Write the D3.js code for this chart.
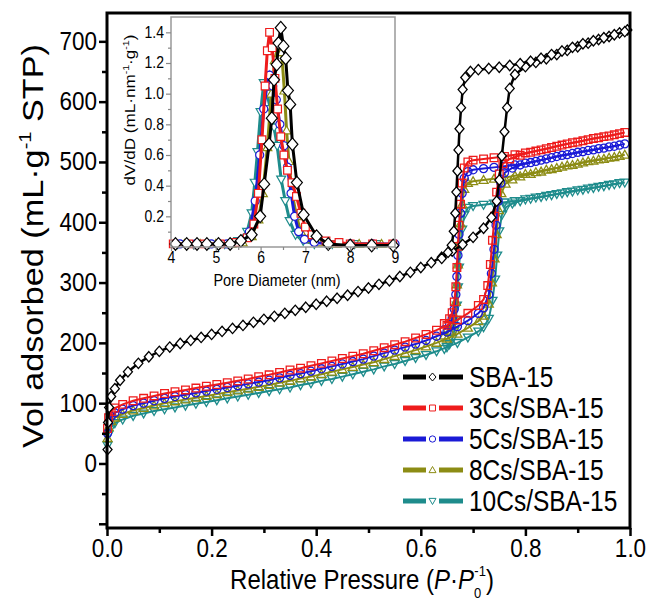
<!DOCTYPE html>
<html><head><meta charset="utf-8">
<script src="https://cdn.jsdelivr.net/npm/d3@7"></script>
<style>body{margin:0;background:#fff} text{font-family:Arial,"Liberation Sans",sans-serif}</style>
</head><body><svg id="c" width="652" height="613"></svg>
<script>
const seriesNames = ["SBA-15","3Cs/SBA-15","5Cs/SBA-15","8Cs/SBA-15","10Cs/SBA-15"];
const seriesColors = ["#000000","#ee1c1c","#1a1ad6","#8c8c14","#1e8c8c"];
const seriesMarkers = ["diamond","square","circle","triangleUp","triangleDown"];
const xTickValues = [0,0.2,0.4,0.6,0.8,1.0];
const xMinorTicks = [0.1,0.3,0.5,0.7,0.9];
const yTickValues = [-100,0,100,200,300,400,500,600,700];
const yMinorTicks = [-50,50,150,250,350,450,550,650];
const insetXTicks = [4,5,6,7,8,9];
const insetXMinor = [4.5,5.5,6.5,7.5,8.5];
const insetYTicks = [0.2,0.4,0.6,0.8,1.0,1.2,1.4];
const insetYMinor = [0.1,0.3,0.5,0.7,0.9,1.1,1.3];

// isotherms [P/P0, volume]
const sba15Ads = [[0.001,23],[0.002,68],[0.004,93],[0.008,111],[0.015,124],[0.025,138],[0.04,152],[0.06,166],[0.08,177],[0.10,186],[0.12,193],[0.14,199],[0.16,204],[0.18,209],[0.20,214],[0.22,219],[0.24,224],[0.26,229],[0.28,234],[0.30,239],[0.32,244],[0.34,249],[0.36,254],[0.38,259],[0.40,264],[0.42,269],[0.44,274],[0.46,279],[0.48,285],[0.50,291],[0.52,297],[0.54,303],[0.56,310],[0.58,317],[0.60,325],[0.62,333],[0.64,342],[0.66,352],[0.68,363],[0.70,375],[0.72,390],[0.735,408],[0.745,435],[0.75,470],[0.755,510],[0.76,550],[0.765,590],[0.77,622],[0.78,645],[0.80,658],[0.82,665],[0.84,671],[0.86,678],[0.88,685],[0.90,691],[0.92,697],[0.94,703],[0.96,708],[0.98,714],[0.995,719]];
const sba15Des = [[0.99,716],[0.97,711],[0.95,706],[0.93,701],[0.91,696],[0.89,690],[0.87,684],[0.85,678],[0.83,672],[0.81,667],[0.79,663],[0.77,660],[0.75,657],[0.73,655],[0.71,653],[0.695,650],[0.685,640],[0.68,620],[0.677,590],[0.674,555],[0.672,520],[0.67,485],[0.668,450],[0.666,415],[0.663,385],[0.659,362],[0.652,350],[0.64,340]];
const cs3Ads = [[0.001,58],[0.003,76],[0.008,86],[0.015,92],[0.03,98],[0.05,104],[0.07,108],[0.09,112],[0.11,116],[0.13,119],[0.15,122],[0.17,125],[0.19,128],[0.21,131],[0.23,134],[0.25,137],[0.27,140],[0.29,144],[0.31,147],[0.33,151],[0.35,155],[0.37,158],[0.39,162],[0.41,166],[0.43,170],[0.45,174],[0.47,178],[0.49,182],[0.51,187],[0.53,192],[0.55,197],[0.57,202],[0.59,208],[0.61,214],[0.63,221],[0.65,229],[0.67,238],[0.69,249],[0.71,262],[0.72,272],[0.728,295],[0.733,330],[0.737,370],[0.741,410],[0.745,450],[0.75,480],[0.757,497],[0.77,505],[0.79,511],[0.81,516],[0.83,520],[0.85,524],[0.87,528],[0.89,532],[0.91,535],[0.93,539],[0.95,542],[0.97,545],[0.99,549]];
const cs3Des = [[0.98,547],[0.96,543],[0.94,540],[0.92,537],[0.90,533],[0.88,530],[0.86,526],[0.84,522],[0.82,518],[0.80,515],[0.78,512],[0.76,509],[0.74,507],[0.72,505],[0.70,503],[0.69,500],[0.683,490],[0.679,465],[0.676,430],[0.673,395],[0.671,360],[0.669,325],[0.667,293],[0.664,268],[0.66,250],[0.655,240],[0.645,232]];
const cs5Ads = [[0.001,50],[0.003,68],[0.008,78],[0.015,84],[0.03,90],[0.05,96],[0.07,100],[0.09,104],[0.11,108],[0.13,111],[0.15,114],[0.17,117],[0.19,120],[0.21,123],[0.23,126],[0.25,129],[0.27,132],[0.29,135],[0.31,138],[0.33,142],[0.35,146],[0.37,149],[0.39,153],[0.41,157],[0.43,161],[0.45,165],[0.47,169],[0.49,173],[0.51,178],[0.53,183],[0.55,188],[0.57,193],[0.59,198],[0.61,204],[0.63,211],[0.65,218],[0.67,227],[0.69,237],[0.71,249],[0.72,258],[0.73,280],[0.735,315],[0.74,355],[0.744,395],[0.748,435],[0.753,465],[0.76,482],[0.775,490],[0.79,495],[0.81,499],[0.83,503],[0.85,507],[0.87,511],[0.89,514],[0.91,517],[0.93,520],[0.95,523],[0.97,526],[0.99,530]];
const cs5Des = [[0.98,528],[0.96,525],[0.94,522],[0.92,519],[0.90,516],[0.88,512],[0.86,509],[0.84,505],[0.82,501],[0.80,498],[0.78,495],[0.76,493],[0.74,491],[0.72,489],[0.70,487],[0.69,484],[0.683,473],[0.679,448],[0.676,415],[0.673,380],[0.671,345],[0.669,310],[0.667,280],[0.664,256],[0.66,240],[0.655,230],[0.645,222]];
const cs8Ads = [[0.001,42],[0.003,60],[0.008,70],[0.015,76],[0.03,82],[0.05,88],[0.07,92],[0.09,96],[0.11,100],[0.13,103],[0.15,106],[0.17,109],[0.19,112],[0.21,115],[0.23,118],[0.25,121],[0.27,124],[0.29,127],[0.31,130],[0.33,134],[0.35,137],[0.37,141],[0.39,144],[0.41,148],[0.43,152],[0.45,156],[0.47,160],[0.49,164],[0.51,168],[0.53,173],[0.55,178],[0.57,183],[0.59,188],[0.61,194],[0.63,200],[0.65,207],[0.67,215],[0.69,225],[0.71,236],[0.72,245],[0.73,265],[0.736,300],[0.741,340],[0.745,380],[0.749,420],[0.754,448],[0.762,464],[0.775,471],[0.79,476],[0.81,480],[0.83,484],[0.85,488],[0.87,492],[0.89,495],[0.91,499],[0.93,502],[0.95,505],[0.97,508],[0.99,512]];
const cs8Des = [[0.98,510],[0.96,507],[0.94,504],[0.92,501],[0.90,497],[0.88,494],[0.86,490],[0.84,487],[0.82,483],[0.80,480],[0.78,477],[0.76,474],[0.74,472],[0.72,470],[0.70,468],[0.69,465],[0.683,455],[0.679,430],[0.676,398],[0.673,365],[0.671,330],[0.669,297],[0.667,268],[0.664,245],[0.66,230],[0.655,220],[0.645,212]];
const cs10Ads = [[0.001,30],[0.003,48],[0.008,60],[0.015,67],[0.03,73],[0.05,79],[0.07,83],[0.09,87],[0.11,90],[0.13,93],[0.15,96],[0.17,99],[0.19,102],[0.21,105],[0.23,108],[0.25,111],[0.27,114],[0.29,117],[0.31,120],[0.33,123],[0.35,126],[0.37,130],[0.39,133],[0.41,137],[0.43,140],[0.45,144],[0.47,148],[0.49,152],[0.51,156],[0.53,161],[0.55,165],[0.57,170],[0.59,175],[0.61,180],[0.63,186],[0.65,193],[0.67,200],[0.69,209],[0.71,219],[0.72,226],[0.73,240],[0.737,270],[0.742,305],[0.746,345],[0.75,385],[0.755,412],[0.763,425],[0.775,431],[0.79,435],[0.81,439],[0.83,442],[0.85,445],[0.87,448],[0.89,451],[0.91,454],[0.93,457],[0.95,460],[0.97,463],[0.99,466]];
const cs10Des = [[0.98,465],[0.96,462],[0.94,459],[0.92,456],[0.90,453],[0.88,450],[0.86,447],[0.84,444],[0.82,441],[0.80,438],[0.78,435],[0.76,433],[0.74,431],[0.72,429],[0.70,427],[0.69,424],[0.683,412],[0.679,388],[0.676,358],[0.673,325],[0.671,292],[0.669,262],[0.667,238],[0.664,220],[0.66,207],[0.655,198],[0.645,190]];

// pore size distributions [diameter nm, dV/dD]
const psdSBA15 = [[4.1,0.02],[4.35,0.02],[4.58,0.02],[4.8,0.02],[5.06,0.02],[5.32,0.02],[5.56,0.04],[5.8,0.08],[5.99,0.2],[6.08,0.41],[6.19,0.67],[6.25,0.84],[6.3,1.09],[6.36,1.19],[6.4,1.33],[6.45,1.43],[6.51,1.31],[6.56,1.23],[6.61,1.02],[6.66,0.93],[6.71,0.67],[6.81,0.42],[6.96,0.21],[7.25,0.07],[7.51,0.02],[8.0,0.01],[8.48,0.01],[8.96,0.01]];
const psd3Cs = [[4.05,0.02],[4.4,0.02],[4.75,0.02],[5.1,0.02],[5.45,0.03],[5.7,0.06],[5.85,0.15],[5.95,0.35],[6.03,0.7],[6.1,1.05],[6.15,1.28],[6.2,1.4],[6.26,1.3],[6.32,1.1],[6.38,0.9],[6.45,0.72],[6.52,0.6],[6.6,0.5],[6.7,0.42],[6.8,0.33],[6.9,0.22],[7.0,0.13],[7.15,0.08],[7.46,0.04],[7.75,0.03],[8.0,0.02],[8.5,0.02],[8.95,0.02]];
const psd5Cs = [[4.2,0.02],[4.55,0.02],[4.9,0.02],[5.25,0.02],[5.55,0.04],[5.75,0.1],[5.88,0.3],[5.98,0.6],[6.07,0.9],[6.14,1.05],[6.2,1.12],[6.27,1.05],[6.35,0.96],[6.43,0.8],[6.52,0.66],[6.6,0.52],[6.68,0.35],[6.76,0.2],[6.85,0.1],[6.98,0.05],[7.2,0.03],[7.5,0.02],[8.0,0.02],[8.5,0.02],[9.0,0.02]];
const psd8Cs = [[4.3,0.02],[4.65,0.02],[5.0,0.02],[5.35,0.02],[5.6,0.03],[5.8,0.07],[5.95,0.18],[6.05,0.35],[6.15,0.65],[6.24,1.0],[6.32,1.22],[6.4,1.33],[6.47,1.27],[6.53,1.02],[6.58,0.76],[6.63,0.56],[6.7,0.36],[6.8,0.2],[6.9,0.1],[7.05,0.05],[7.3,0.03],[7.7,0.02],[8.2,0.02],[8.7,0.02]];
const psd10Cs = [[4.15,0.02],[4.5,0.02],[4.85,0.02],[5.2,0.02],[5.5,0.04],[5.7,0.1],[5.8,0.22],[5.87,0.42],[5.93,0.62],[6.0,0.88],[6.07,1.07],[6.14,1.0],[6.22,0.9],[6.3,0.78],[6.37,0.66],[6.46,0.44],[6.55,0.3],[6.65,0.17],[6.78,0.08],[6.95,0.04],[7.2,0.02],[7.6,0.02],[8.1,0.02],[8.6,0.02]];

const adsorption = [sba15Ads, cs3Ads, cs5Ads, cs8Ads, cs10Ads];
const desorption = [sba15Des, cs3Des, cs5Des, cs8Des, cs10Des];
const psd = [psdSBA15, psd3Cs, psd5Cs, psd8Cs, psd10Cs];

const S = 1.18; // vertical glyph stretch of the original figure
const svg = d3.select("#c");
const x = d3.scaleLinear().domain([0, 1]).range([107, 630]);
const y = d3.scaleLinear().domain([-107, 747]).range([528, 13]);
const ix = d3.scaleLinear().domain([4, 9]).range([171, 395]);
const iy = d3.scaleLinear().domain([0, 1.5]).range([247, 17]);

function markerPath(type, s) {
  const h = s / 2;
  switch (type) {
    case "diamond": return `M0,${-h*1.15}L${h},0L0,${h*1.15}L${-h},0Z`;
    case "square": return `M${-h*0.85},${-h*0.85}H${h*0.85}V${h*0.85}H${-h*0.85}Z`;
    case "circle": return d3.arc()({innerRadius:0, outerRadius:h*0.9, startAngle:0, endAngle:2*Math.PI});
    case "triangleUp": return `M0,${-h}L${h},${h*0.75}L${-h},${h*0.75}Z`;
    case "triangleDown": return `M0,${h}L${h},${-h*0.75}L${-h},${-h*0.75}Z`;
  }
}
function stretchAbout(cy) { return `translate(0,${cy}) scale(1,${S}) translate(0,${-cy})`; }

// main series (draw colored first, black last)
const order = [4, 3, 2, 1, 0];
const gData = svg.append("g");
order.forEach(i => {
  const col = seriesColors[i];
  const line = d3.line().x(d => x(d[0])).y(d => y(d[1]));
  [adsorption[i], desorption[i]].forEach(arr => {
    gData.append("path").attr("d", line(arr)).attr("fill", "none")
      .attr("stroke", col).attr("stroke-width", i === 0 ? 2.5 : 2);
    gData.selectAll(null).data(arr).enter().append("path")
      .attr("d", markerPath(seriesMarkers[i], 9))
      .attr("transform", d => `translate(${x(d[0])},${y(d[1])})`)
      .attr("fill", i === 0 ? "#fff" : "none")
      .attr("stroke", col).attr("stroke-width", 1.3);
  });
});

// main frame and axes
svg.append("rect").attr("x", 107).attr("y", 13).attr("width", 523).attr("height", 515)
  .attr("fill", "none").attr("stroke", "#000").attr("stroke-width", 3);

function styleAxis(g, w, fs, col) {
  g.select(".domain").remove();
  g.selectAll(".tick line").attr("stroke", col || "#000").attr("stroke-width", w);
  g.selectAll(".tick text").attr("fill", "#000").style("font-size", fs + "px")
    .style("font-family", "Arial, 'Liberation Sans', sans-serif");
}
const FS = 22.5;
const gxMinor = svg.append("g").attr("transform", "translate(0,528)")
  .call(d3.axisBottom(x).tickValues(xMinorTicks).tickSize(5).tickFormat(""));
styleAxis(gxMinor, 2.5, FS);
const gx = svg.append("g").attr("transform", "translate(0,528)")
  .call(d3.axisBottom(x).tickValues(xTickValues).tickSize(8).tickPadding(4).tickFormat(d3.format(".1f")));
styleAxis(gx, 2.5, FS);
gx.selectAll(".tick text").attr("transform", stretchAbout(12 + 0.36 * FS));
const gyMinor = svg.append("g").attr("transform", "translate(107,0)")
  .call(d3.axisLeft(y).tickValues(yMinorTicks).tickSize(5).tickFormat(""));
styleAxis(gyMinor, 2.5, FS);
const gy = svg.append("g").attr("transform", "translate(107,0)")
  .call(d3.axisLeft(y).tickValues(yTickValues).tickSize(8).tickPadding(2).tickFormat(d => d < 0 ? "" : d));
styleAxis(gy, 2.5, FS);
gy.selectAll(".tick text").attr("transform", `scale(1,${S})`).attr("dy", "0.3em");

// axis titles
const yt = svg.append("text").attr("transform", `translate(43,246) rotate(-90) scale(${S},1)`)
  .attr("text-anchor", "middle").style("font-size", "29px").attr("fill", "#000");
yt.append("tspan").text("Vol adsorbed (mL·g");
yt.append("tspan").text("-1").style("font-size", "17px").attr("dy", -12);
yt.append("tspan").text(" STP)").attr("dy", 12);

const xt = svg.append("text").attr("transform", `translate(362,589) scale(1,${S})`)
  .attr("text-anchor", "middle").style("font-size", "24px").attr("fill", "#000");
xt.append("tspan").text("Relative Pressure (");
xt.append("tspan").text("P").style("font-style", "italic");
xt.append("tspan").text("·");
xt.append("tspan").text("P").style("font-style", "italic");
xt.append("tspan").text("0").style("font-size", "13px").attr("dy", 8);
xt.append("tspan").text("-1").style("font-size", "13px").attr("dx", -7).attr("dy", -19);
xt.append("tspan").text(")").attr("dy", 11);

// legend
const legendY = [377, 408, 439, 470, 501];
seriesNames.forEach((name, i) => {
  const g = svg.append("g").attr("transform", `translate(0,${legendY[i]})`);
  g.append("line").attr("x1", 403).attr("x2", 426).attr("y1", 0).attr("y2", 0)
    .attr("stroke", seriesColors[i]).attr("stroke-width", 5);
  g.append("line").attr("x1", 439).attr("x2", 463).attr("y1", 0).attr("y2", 0)
    .attr("stroke", seriesColors[i]).attr("stroke-width", 5);
  g.append("path").attr("d", markerPath(seriesMarkers[i], 7)).attr("transform", "translate(432.5,0)")
    .attr("fill", "#fff").attr("stroke", seriesColors[i]).attr("stroke-width", 1);
  g.append("text").attr("x", 469).attr("y", 0).attr("dy", "0.36em").attr("transform", `scale(1,${S})`)
    .style("font-size", "24.5px").attr("fill", "#000").text(name);
});

// inset
const gi = svg.append("g");
order.forEach(i => {
  const col = seriesColors[i];
  const line = d3.line().x(d => ix(d[0])).y(d => iy(d[1]));
  gi.append("path").attr("d", line(psd[i])).attr("fill", "none")
    .attr("stroke", col).attr("stroke-width", 3);
  gi.selectAll(null).data(psd[i]).enter().append("path")
    .attr("d", markerPath(seriesMarkers[i], i === 0 ? 11 : 9))
    .attr("transform", d => `translate(${ix(d[0])},${iy(d[1])})`)
    .attr("fill", "#fff").attr("stroke", col).attr("stroke-width", 1.2);
});
svg.append("rect").attr("x", 171).attr("y", 17).attr("width", 224).attr("height", 230)
  .attr("fill", "none").attr("stroke", "#999").attr("stroke-width", 1.5);
const IFS = 14;
styleAxis(svg.append("g").attr("transform", "translate(0,247)")
  .call(d3.axisBottom(ix).tickValues(insetXMinor).tickSize(3).tickFormat("")), 1.2, IFS, "#888");
const gix = svg.append("g").attr("transform", "translate(0,247)")
  .call(d3.axisBottom(ix).tickValues(insetXTicks).tickSize(4).tickPadding(1).tickFormat(d3.format("d")));
styleAxis(gix, 1.2, IFS, "#888");
gix.selectAll(".tick text").attr("transform", stretchAbout(5 + 0.36 * IFS));
styleAxis(svg.append("g").attr("transform", "translate(171,0)")
  .call(d3.axisLeft(iy).tickValues(insetYMinor).tickSize(3).tickFormat("")), 1.2, IFS, "#888");
const giy = svg.append("g").attr("transform", "translate(171,0)")
  .call(d3.axisLeft(iy).tickValues(insetYTicks).tickSize(5).tickPadding(2).tickFormat(d3.format(".1f")));
styleAxis(giy, 1.2, IFS, "#888");
giy.selectAll(".tick text").attr("transform", `scale(1,${S})`).attr("dy", "0.3em");

const iyt = svg.append("text").attr("transform", `translate(135,110) rotate(-90) scale(${S},1)`)
  .attr("text-anchor", "middle").style("font-size", "14.5px").attr("fill", "#000");
iyt.append("tspan").text("dV/dD (mL·nm");
iyt.append("tspan").text("-1").style("font-size", "9px").attr("dy", -6);
iyt.append("tspan").text("·g").attr("dy", 6);
iyt.append("tspan").text("-1").style("font-size", "9px").attr("dy", -6);
iyt.append("tspan").text(")").attr("dy", 6);
svg.append("text").attr("transform", `translate(277,286) scale(1,1.1)`).attr("text-anchor", "middle")
  .style("font-size", "14.5px").attr("fill", "#000").text("Pore Diameter (nm)");
</script></body></html>
